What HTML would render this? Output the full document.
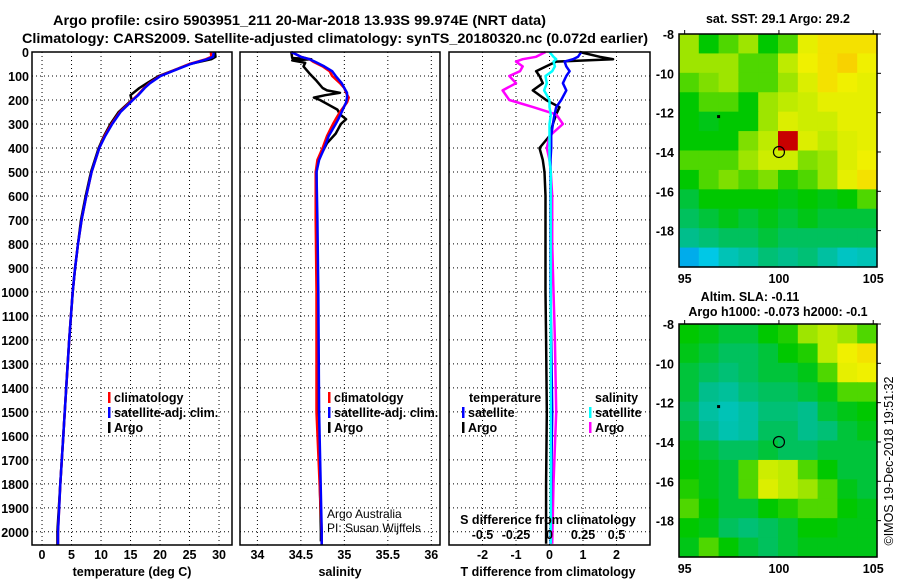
<!DOCTYPE html>
<html><head><meta charset="utf-8">
<style>
html,body{margin:0;padding:0;background:#fff;}
svg{display:block;font-family:"Liberation Sans",sans-serif;font-weight:bold;}
</style></head>
<body>
<svg id="c" width="900" height="580" viewBox="0 0 900 580">
<text x="53" y="25" font-size="13.5" textLength="493" lengthAdjust="spacingAndGlyphs">Argo profile: csiro 5903951_211 20-Mar-2018 13.93S 99.974E (NRT data)</text>
<text x="22" y="43" font-size="13.5" textLength="626" lengthAdjust="spacingAndGlyphs">Climatology: CARS2009. Satellite-adjusted climatology: synTS_20180320.nc (0.072d earlier)</text>
<g id="plots"></g>
</svg>
<script>
// ---- data ----
const depthTicks=[0,100,200,300,400,500,600,700,800,900,1000,1100,1200,1300,1400,1500,1600,1700,1800,1900,2000];
const tempTicks=[0,5,10,15,20,25,30];
const salTicks=[34,34.5,35,35.5,36];
const salTickLabels=["34","34.5","35","35.5","36"];
const tdiffTicks=[-2,-1,0,1,2];
const sdiffTicks=[-0.5,-0.25,0,0.25,0.5];
const sdiffTickLabels=["-0.5","-0.25","0","0.25","0.5"];

const tDepth=[0,20,30,50,70,100,130,150,180,200,250,300,350,400,500,600,700,800,900,1000,1200,1400,1600,1800,2000,2055];
const tClim=[28.6,28.7,27.8,25.0,23.0,20.0,18.2,17.3,16.2,15.3,13.2,11.8,10.6,9.7,8.4,7.5,6.7,6.1,5.6,5.2,4.6,4.1,3.6,3.1,2.7,2.7];
const tSat=[29.1,29.0,28.0,25.2,23.1,20.1,18.3,17.4,16.3,15.4,13.3,11.9,10.7,9.7,8.4,7.5,6.7,6.1,5.6,5.2,4.6,4.1,3.6,3.1,2.7,2.7];
const tArgo=[29.3,29.4,28.7,25.0,23.0,19.8,17.8,16.5,15.0,15.2,13.0,11.6,10.5,9.6,8.3,7.4,6.6,6.1,5.6,5.2,4.6,4.1,3.6,3.1,2.6,2.6];

const sDepth=[0,20,30,40,60,80,100,130,150,170,190,210,250,280,300,350,400,450,500,700,1000,1500,2000,2055];
const sClim=[34.39,34.5,34.6,34.64,34.75,34.83,34.86,34.95,35.0,35.02,35.05,35.03,34.95,34.9,34.87,34.8,34.75,34.69,34.67,34.67,34.68,34.68,34.74,34.74];
const sSat=[34.39,34.5,34.6,34.66,34.77,34.86,34.9,34.97,35.0,35.03,35.03,35.02,34.97,34.93,34.9,34.82,34.77,34.71,34.68,34.69,34.7,34.71,34.74,34.74];
const sArgoDepth=[0,25,30,35,45,60,90,120,150,160,170,180,190,200,220,240,260,280,300,320,340,380,450,500,700,1000,1500,2000,2040];
const sArgo=[34.39,34.4,34.62,34.4,34.55,34.53,34.6,34.68,34.75,34.8,34.95,34.78,34.65,34.72,34.82,34.92,34.95,35.02,34.96,34.93,34.9,34.8,34.7,34.68,34.68,34.69,34.7,34.73,34.73];

const dDepth=[0,20,30,40,60,80,100,130,160,200,230,260,300,350,400,450,500,600,800,1000,1200,1500,1800,2050];
const tdArgo=[0.9,1.5,1.9,0.2,-0.1,-0.4,-0.3,-0.2,-0.5,-0.1,0.3,0.2,0.1,0.0,-0.3,-0.2,-0.15,-0.12,-0.12,-0.12,-0.1,-0.08,-0.1,-0.1];
const tdSat=[0.95,0.85,0.7,0.45,0.5,0.6,0.5,0.4,0.5,0.35,0.2,0.15,0.1,0.05,0.05,0.03,0.03,0.03,0.03,0.03,0.05,0.08,0.05,0.03];
const sdArgo=[-0.03,-0.1,-0.2,-0.25,-0.2,-0.22,-0.3,-0.25,-0.35,-0.3,-0.12,0.05,0.1,0.0,-0.02,0.0,0.01,0.02,0.02,0.03,0.04,0.05,0.03,0.02];
const sdSat=[0.0,0.03,0.05,0.03,0.04,0.02,-0.03,-0.02,-0.04,0.0,0.0,0.01,0.0,0.0,0.0,0.0,0.01,0.01,0.01,0.01,0.01,0.01,0.01,0.01];

const sstGrid=[
[.6,.5,.55,.6,.5,.55,.7,.75,.75,.75],
[.6,.6,.6,.55,.55,.62,.72,.75,.78,.72],
[.55,.58,.6,.55,.55,.6,.68,.75,.72,.7],
[.5,.55,.55,.5,.6,.62,.65,.7,.7,.7],
[.5,.48,.5,.5,.6,.68,.65,.65,.7,.7],
[.5,.5,.5,.58,.62,.9,.68,.62,.68,.7],
[.55,.55,.55,.6,.65,.65,.58,.6,.68,.72],
[.5,.55,.58,.55,.58,.52,.55,.6,.7,.75],
[.45,.5,.5,.5,.5,.48,.5,.48,.5,.55],
[.42,.45,.48,.45,.48,.45,.48,.45,.45,.45],
[.38,.4,.42,.42,.45,.42,.42,.42,.42,.42],
[.2,.25,.32,.35,.4,.38,.4,.35,.3,.32]];
const slaGrid=[
[.5,.48,.45,.45,.5,.52,.6,.62,.6,.55],
[.48,.45,.42,.42,.45,.5,.52,.62,.72,.75],
[.45,.42,.4,.42,.45,.45,.48,.55,.7,.72],
[.45,.38,.36,.4,.42,.42,.45,.48,.55,.55],
[.42,.35,.32,.35,.4,.4,.38,.45,.48,.5],
[.45,.38,.33,.35,.42,.42,.38,.4,.45,.48],
[.48,.45,.42,.42,.45,.42,.42,.45,.45,.45],
[.5,.48,.45,.55,.65,.62,.55,.5,.45,.45],
[.52,.48,.45,.55,.68,.62,.6,.55,.48,.45],
[.55,.5,.45,.45,.5,.52,.55,.55,.5,.48],
[.5,.48,.42,.4,.42,.45,.5,.5,.48,.48],
[.48,.55,.5,.45,.42,.45,.48,.48,.48,.48]];
const latTicks=[-8,-10,-12,-14,-16,-18];
const lonTicks=[95,100,105];
const argoLon=100, argoLat=-14;

// ---- drawing ----
const NS='http://www.w3.org/2000/svg';
const root=document.getElementById('plots');
function el(tag,attrs,parent,txt){const e=document.createElementNS(NS,tag);for(const k in attrs)e.setAttribute(k,attrs[k]);if(txt!==undefined)e.textContent=txt;(parent||root).appendChild(e);return e;}
const Y0=52,Y1=545,DMAX=2055;
const yD=d=>Y0+d/DMAX*(Y1-Y0);

function panel(name,x0,x1,vmin,vmax){
  const g=el('g',{});
  
  
  const sx=v=>x0+(v-vmin)/(vmax-vmin)*(x1-x0);
  return {g,sx,x0,x1};
}
function grid(p,xt){
  depthTicks.forEach(d=>{if(d>0){const l=el('line',{x1:p.x0,x2:p.x1,y1:yD(d),y2:yD(d),stroke:'#000','stroke-width':1,'stroke-dasharray':'1,3'},p.g);
    }});
  xt.forEach(v=>{const l=el('line',{x1:p.sx(v),x2:p.sx(v),y1:Y0,y2:Y1,stroke:'#000','stroke-width':1,'stroke-dasharray':'1,3'},p.g);
    });
}
function frame(p){const r=el('rect',{x:p.x0,y:Y0,width:p.x1-p.x0,height:Y1-Y0,fill:'none',stroke:'#000','stroke-width':1.5},p.g);
  }
function line(p,ds,vs,color,name,w){
  const pts=ds.map((d,i)=>p.sx(vs[i]).toFixed(1)+','+yD(d).toFixed(1)).join(' ');
  const l=el('polyline',{points:pts,fill:'none',stroke:color,'stroke-width':w||2.5,'stroke-linejoin':'round'},p.g);
  
}
function xlabels(p,ticks,labels,y){ticks.forEach((v,i)=>{const t=el('text',{x:p.sx(v),y:y,'font-size':12.5,'text-anchor':'middle'},p.g,labels?labels[i]:String(v));
  });}
function txt(p,x,y,s,name,opts){const t=el('text',Object.assign({x:x,y:y,'font-size':12.5},opts||{}),p.g,s);
  return t;}
function legend(p,x,y,color,label,name){
  const m=el('rect',{x:x,y:y-10,width:2.5,height:11,fill:color},p.g);
  
  txt(p,x+6,y,label,name);
}

// Panel 1: temperature
const p1=panel('temperature-panel',32,232,-1.7,32.2);
grid(p1,tempTicks);
line(p1,tDepth,tArgo,'#000','argo-temperature-line');
line(p1,tDepth,tClim,'#f00','climatology-temperature-line');
line(p1,tDepth,tSat,'#00f','satellite-temperature-line');
frame(p1);
depthTicks.forEach(d=>{const t=el('text',{x:29,y:yD(d)+5,'font-size':12.5,'text-anchor':'end'},p1.g,String(d));
  });
xlabels(p1,tempTicks,null,559);
txt(p1,132,576,'temperature (deg C)','x-axis-title-temperature',{'text-anchor':'middle'});
legend(p1,108,402,'#f00','climatology','legend-climatology');
legend(p1,108,417,'#00f','satellite-adj. clim.','legend-satellite');
legend(p1,108,432,'#000','Argo','legend-argo');

// Panel 2: salinity
const p2=panel('salinity-panel',240,440,33.8,36.1);
grid(p2,salTicks);
line(p2,sArgoDepth,sArgo,'#000','argo-salinity-line');
line(p2,sDepth,sClim,'#f00','climatology-salinity-line');
line(p2,sDepth,sSat,'#00f','satellite-salinity-line');
frame(p2);
xlabels(p2,salTicks,salTickLabels,559);
txt(p2,340,576,'salinity','x-axis-title-salinity',{'text-anchor':'middle'});
legend(p2,328,402,'#f00','climatology','legend-climatology-sal');
legend(p2,328,417,'#00f','satellite-adj. clim.','legend-satellite-sal');
legend(p2,328,432,'#000','Argo','legend-argo-sal');
txt(p2,327,518,'Argo Australia','credit-argo-australia',{'font-weight':'normal','font-size':12});
txt(p2,327,532,'PI: Susan Wijffels','credit-pi',{'font-weight':'normal','font-size':12});

// Panel 3: differences (T scale; S plotted at 4x)
const p3=panel('difference-panel',449,650,-3,3);
const sS=v=>v*4;
grid(p3,tdiffTicks);
line(p3,dDepth,tdArgo,'#000','argo-t-diff-line');
line(p3,dDepth,sdArgo.map(sS),'#f0f','argo-s-diff-line');
line(p3,dDepth,tdSat,'#00f','satellite-t-diff-line');
line(p3,dDepth,sdSat.map(sS),'#0ff','satellite-s-diff-line');
frame(p3);
xlabels(p3,tdiffTicks,null,559);
sdiffTicks.forEach((v,i)=>{const t=el('text',{x:p3.sx(v*4),y:539,'font-size':12.5,'text-anchor':'middle'},p3.g,sdiffTickLabels[i]);
  });
txt(p3,548,524,'S difference from climatology','s-diff-axis-title',{'text-anchor':'middle'});
txt(p3,548,576,'T difference from climatology','t-diff-axis-title',{'text-anchor':'middle'});
txt(p3,469,402,'temperature','legend-temperature-heading');
legend(p3,462,417,'#00f','satellite','legend-t-satellite');
legend(p3,462,432,'#000','Argo','legend-t-argo');
txt(p3,595,402,'salinity','legend-salinity-heading');
legend(p3,589,417,'#0ff','satellite','legend-s-satellite');
legend(p3,589,432,'#f0f','Argo','legend-s-argo');

// Maps
function cmap(v){
  const stops=[[0,[0,60,255]],[0.25,[0,200,230]],[0.38,[0,190,140]],[0.5,[0,200,0]],[0.62,[190,235,0]],[0.72,[240,240,0]],[0.8,[250,200,0]],[0.9,[200,0,0]],[1,[150,0,0]]];
  for(let i=1;i<stops.length;i++){if(v<=stops[i][0]){const a=stops[i-1],b=stops[i];const t=(v-a[0])/(b[0]-a[0]);
    const c=a[1].map((x,j)=>Math.round(x+(b[1][j]-x)*t));return 'rgb('+c.join(',')+')';}}
  return 'rgb(150,0,0)';
}
function mapPanel(name,top,gridv){
  const X0=679,X1=877,T=top,B=top+233;
  const g=el('g',{});
  
  
  const lx=v=>X0+(v-94.7)/(105.2-94.7)*(X1-X0);
  const ly=v=>T+(-8-v)/(19.85-8)*(B-T);
  const rows=gridv.length,cols=gridv[0].length;
  const cw=(X1-X0)/cols,ch=(B-T)/rows;
  gridv.forEach((r,i)=>r.forEach((v,j)=>{
    const c=el('rect',{x:(X0+j*cw).toFixed(2),y:(T+i*ch).toFixed(2),width:(cw+0.6).toFixed(2),height:(ch+0.6).toFixed(2),fill:cmap(v)},g);
    
  }));
  const f=el('rect',{x:X0,y:T,width:X1-X0,height:B-T,fill:'none',stroke:'#000','stroke-width':1.5},g);
  
  latTicks.forEach(v=>{
    const t=el('text',{x:674,y:ly(v)+5,'font-size':12.5,'text-anchor':'end'},g,String(v));
    
    const k=el('line',{x1:X1,x2:X1+4,y1:ly(v),y2:ly(v),stroke:'#000'},g);
    
  });
  lonTicks.forEach(v=>{
    const t=el('text',{x:lx(v),y:B+16,'font-size':12.5,'text-anchor':'middle'},g,String(v));
    
    const k=el('line',{x1:lx(v),x2:lx(v),y1:T,y2:T-4,stroke:'#000'},g);
    
  });
  const c=el('circle',{cx:lx(argoLon),cy:ly(argoLat),r:5.5,fill:'none',stroke:'#000','stroke-width':1.2},g);
  
  const d=el('rect',{x:lx(96.8)-1.5,y:ly(-12.2)-1.5,width:3,height:3,fill:'#000'},g);
  
  return g;
}
const m1=mapPanel('sst-map',34,sstGrid);
const m2=mapPanel('sla-map',324,slaGrid);
let t;
t=el('text',{x:778,y:23,'font-size':12.5,'text-anchor':'middle'},m1,'sat. SST: 29.1 Argo: 29.2');

t=el('text',{x:750,y:301,'font-size':12.5,'text-anchor':'middle'},m2,'Altim. SLA: -0.11');

t=el('text',{x:778,y:316,'font-size':12.5,'text-anchor':'middle'},m2,'Argo h1000: -0.073 h2000: -0.1');

t=el('text',{x:0,y:0,'font-size':12.5,'font-weight':'normal','text-anchor':'middle',transform:'translate(893,461) rotate(-90)'},m2,'©IMOS 19-Dec-2018 19:51:32');

</script>
</body></html>
